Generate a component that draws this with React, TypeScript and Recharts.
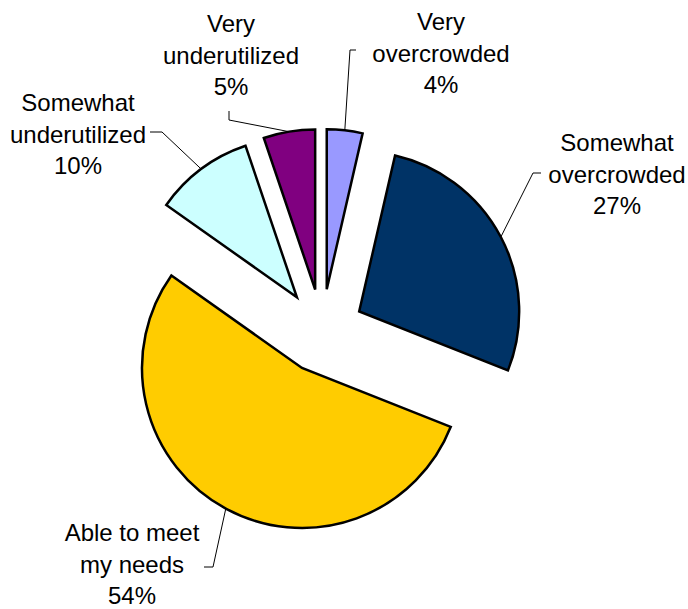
import React from 'react';
import { PieChart, Pie, Cell } from 'recharts';

// ---- data ----
const categories = [
  'Very overcrowded',
  'Somewhat overcrowded',
  'Able to meet my needs',
  'Somewhat underutilized',
  'Very underutilized',
];
const labelNameLines = [
  ['Very', 'overcrowded'],
  ['Somewhat', 'overcrowded'],
  ['Able to meet', 'my needs'],
  ['Somewhat', 'underutilized'],
  ['Very', 'underutilized'],
];
const values = [3.6, 27.4, 53.8, 10.0, 5.2];

// ---- styles / layout ----
const COLORS = ['#9999FF', '#003366', '#FFCC00', '#CCFFFF', '#800080'];
const WIDTH = 688;
const HEIGHT = 609;
const CX = 322;
const CY = 331;
const R = 160;
const EXPLODE = 42;
const FONT = '"Liberation Sans", Arial, Helvetica, sans-serif';
const FONT_SIZE = 24;
const LINE_H = 31.5;
const RAD = Math.PI / 180;

// label text anchor (center x, first baseline y) and leader elbow/end points
const LABEL_LAYOUT = [
  { x: 441, y: 30, leader: [[350, 50], [356, 50]] },
  { x: 617, y: 151, leader: [[533, 173], [541, 173]] },
  { x: 132, y: 541, leader: [[213, 567], [204, 567]] },
  { x: 78, y: 111, leader: [[162, 132], [150, 132]] },
  { x: 231, y: 32, leader: [[229, 120], [229, 111]] },
];

const data = categories.map((name, i) => ({ name, value: values[i] }));
const total = values.reduce((a, b) => a + b, 0);
const midAngles = (() => {
  let acc = 0;
  return values.map((v) => {
    const m = 90 - ((acc + v / 2) / total) * 360;
    acc += v;
    return m;
  });
})();

const makeLabel = (k: number) => (props: any) => {
  const { cx, cy, midAngle, outerRadius, index, percent } = props;
  if (index !== k) return <g />;
  const sx = cx + Math.cos(-midAngle * RAD) * outerRadius;
  const sy = cy + Math.sin(-midAngle * RAD) * outerRadius;
  const lay = LABEL_LAYOUT[k];
  const pts = [[sx, sy], ...lay.leader].map((p) => p.join(',')).join(' ');
  const lines = [...labelNameLines[k], `${Math.round(percent * 100)}%`];
  return (
    <g>
      <polyline points={pts} fill="none" stroke="#000" strokeWidth={1} />
      <text
        x={lay.x}
        y={lay.y}
        textAnchor="middle"
        fontFamily={FONT}
        fontSize={FONT_SIZE}
        fill="#000"
      >
        {lines.map((t, i) => (
          <tspan key={i} x={lay.x} dy={i === 0 ? 0 : LINE_H}>
            {t}
          </tspan>
        ))}
      </text>
    </g>
  );
};

export default function App() {
  return (
    <div style={{ position: 'absolute', left: 0, top: 0, background: '#fff' }}>
      <PieChart width={WIDTH} height={HEIGHT} margin={{ top: 0, right: 0, bottom: 0, left: 0 }}>
        {data.map((_, k) => (
          <Pie
            key={k}
            data={data}
            dataKey="value"
            nameKey="name"
            cx={CX + EXPLODE * Math.cos(midAngles[k] * RAD)}
            cy={CY - EXPLODE * Math.sin(midAngles[k] * RAD)}
            outerRadius={R}
            innerRadius={0}
            startAngle={90}
            endAngle={-270}
            isAnimationActive={false}
            label={makeLabel(k)}
            labelLine={false}
          >
            {data.map((d, i) => (
              <Cell
                key={d.name}
                fill={i === k ? COLORS[i] : 'none'}
                stroke={i === k ? '#000' : 'none'}
                strokeWidth={2.5}
              />
            ))}
          </Pie>
        ))}
      </PieChart>
    </div>
  );
}
